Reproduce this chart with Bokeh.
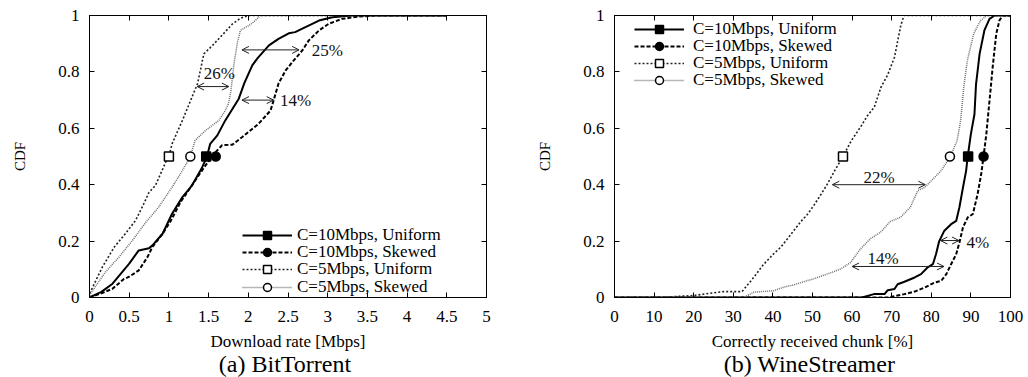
from bokeh.plotting import figure
from bokeh.layouts import row
from bokeh.models import (FixedTicker, LinearAxis, Range1d, Legend, LegendItem,
                          Arrow, OpenHead, Label, Title)
from bokeh.embed import file_html
from bokeh.resources import INLINE

# ---------------- data: (a) BitTorrent ----------------
bt_10u_x = [0, 0.15, 0.29, 0.5, 0.62, 0.75, 0.79, 0.92, 1.04, 1.17, 1.29, 1.42, 1.48, 1.52, 1.61, 1.71,
            1.88, 1.95, 2.05, 2.12, 2.26, 2.38, 2.51, 2.59, 2.72, 2.89, 3.06, 3.31, 4.5]
bt_10u_y = [0, 0.02, 0.049, 0.12, 0.167, 0.175, 0.184, 0.226, 0.297, 0.356, 0.397, 0.462, 0.5, 0.545,
            0.575, 0.628, 0.705, 0.76, 0.823, 0.85, 0.894, 0.917, 0.937, 0.941, 0.959, 0.982, 0.994, 1.0, 1.0]

bt_10s_x = [0, 0.15, 0.29, 0.43, 0.5, 0.62, 0.73, 0.79, 0.92, 1.02, 1.15, 1.32, 1.44, 1.57, 1.67, 1.8,
            1.92, 2.13, 2.28, 2.32, 2.38, 2.47, 2.57, 2.68, 2.76, 2.89, 3.01, 3.18, 3.39, 3.6, 4.5]
bt_10s_y = [0, 0.015, 0.031, 0.065, 0.074, 0.096, 0.143, 0.178, 0.226, 0.27, 0.34, 0.41, 0.46, 0.51, 0.54,
            0.542, 0.568, 0.616, 0.663, 0.70, 0.758, 0.805, 0.84, 0.876, 0.911, 0.947, 0.97, 0.988, 0.996, 1.0, 1.0]

bt_5u_x = [0, 0.01, 0.16, 0.31, 0.45, 0.58, 0.68, 0.75, 0.83, 0.96, 1.0, 1.04, 1.17, 1.29, 1.36, 1.40,
           1.44, 1.55, 1.67, 1.80, 1.9, 2.0, 4.5]
bt_5u_y = [0, 0.019, 0.107, 0.178, 0.226, 0.273, 0.33, 0.373, 0.397, 0.48, 0.5, 0.545, 0.628, 0.71, 0.758,
           0.81, 0.864, 0.894, 0.93, 0.97, 0.99, 1.0, 1.0]

bt_5s_x = [0, 0.01, 0.20, 0.37, 0.54, 0.71, 0.87, 1.04, 1.17, 1.27, 1.33, 1.46, 1.63, 1.71, 1.75, 1.78,
           1.82, 1.86, 1.90, 2.01, 2.09, 2.15, 4.5]
bt_5s_y = [0, 0.013, 0.09, 0.143, 0.202, 0.267, 0.32, 0.391, 0.45, 0.5, 0.557, 0.592, 0.628, 0.663, 0.687,
           0.73, 0.829, 0.90, 0.947, 0.965, 0.982, 1.0, 1.0]

bt_medians = [1.47, 1.59, 1.0, 1.27]

# ---------------- data: (b) WineStreamer ----------------
ws_10u_x = [0, 62.5, 65.5, 68.2, 69, 70.7, 71.5, 73.2, 75.8, 77.4, 79.1, 80.4, 81.2, 82, 83.3, 85, 86.3,
            87.1, 88, 88.8, 89.2, 90, 90.9, 91.3, 92.2, 93.4, 94.7, 96, 100]
ws_10u_y = [0, 0, 0.012, 0.012, 0.026, 0.03, 0.047, 0.056, 0.071, 0.083, 0.107, 0.118, 0.154, 0.2, 0.237,
            0.26, 0.272, 0.32, 0.39, 0.45, 0.5, 0.58, 0.65, 0.757, 0.864, 0.947, 0.988, 1.0, 1.0]

ws_10s_x = [0, 69, 73.2, 75.8, 78.3, 80.8, 82.5, 83.8, 85, 86.3, 87.1, 88, 89.2, 90.5, 91.7, 92.6, 93.2,
            93.9, 94.7, 95.5, 96.4, 97.2, 98, 100]
ws_10s_y = [0, 0, 0.012, 0.021, 0.035, 0.053, 0.059, 0.083, 0.118, 0.154, 0.195, 0.249, 0.284, 0.296,
            0.367, 0.438, 0.5, 0.58, 0.698, 0.817, 0.935, 0.982, 1.0, 1.0]

ws_5u_x = [0, 12.5, 20, 24.2, 27.6, 32.2, 33.5, 35.2, 37.5, 40.2, 42.1, 44.6, 47.1, 48.8, 50.5, 52.2,
           53.5, 55.6, 57.7, 59.8, 62.1, 63.9, 65.6, 67.3, 69, 70.7, 72.3, 73.1, 100]
ws_5u_y = [0, 0.001, 0.007, 0.015, 0.021, 0.021, 0.043, 0.072, 0.115, 0.155, 0.18, 0.225, 0.27, 0.296,
           0.33, 0.367, 0.396, 0.45, 0.5, 0.556, 0.604, 0.645, 0.675, 0.746, 0.79, 0.852, 0.965, 1.0, 1.0]

ws_5s_x = [0, 32.6, 35.2, 40.2, 42.8, 45.3, 48.7, 50.3, 53.7, 57.1, 59.6, 62.1, 64.6, 67.2, 69.7, 72.2,
           74.7, 76.6, 78.3, 80, 82.5, 84.8, 86.5, 87.4, 88.2, 89.1, 90.7, 92.4, 94.1, 100]
ws_5s_y = [0, 0, 0.019, 0.024, 0.037, 0.045, 0.06, 0.066, 0.083, 0.101, 0.124, 0.172, 0.208, 0.232, 0.27,
           0.284, 0.32, 0.379, 0.39, 0.414, 0.45, 0.5, 0.556, 0.627, 0.746, 0.84, 0.935, 0.982, 1.0, 1.0]

ws_medians = [89.3, 93.2, 57.7, 84.7]

series_names = ["C=10Mbps, Uniform", "C=10Mbps, Skewed", "C=5Mbps, Uniform", "C=5Mbps, Skewed"]

bt_xticks = [0, 0.5, 1, 1.5, 2, 2.5, 3, 3.5, 4, 4.5, 5]
bt_xtick_labels = ["0", "0.5", "1", "1.5", "2", "2.5", "3", "3.5", "4", "4.5", "5"]
ws_xticks = [0, 10, 20, 30, 40, 50, 60, 70, 80, 90, 100]
ws_xtick_labels = ["0", "10", "20", "30", "40", "50", "60", "70", "80", "90", "100"]
yticks = [0, 0.2, 0.4, 0.6, 0.8, 1]
ytick_labels = ["0", "0.2", "0.4", "0.6", "0.8", "1"]

# annotations: (x_start, x_end, y, text, text_x, text_y, align)
bt_notes = [(1.356, 1.755, 0.748, "26%", 1.44, 0.795, "left"),
            (1.92, 2.64, 0.878, "25%", 2.80, 0.875, "left"),
            (1.92, 2.32, 0.70, "14%", 2.40, 0.70, "left")]
ws_notes = [(55, 78.5, 0.40, "22%", 66.8, 0.425, "center"),
            (60, 83.2, 0.11, "14%", 67.8, 0.137, "center"),
            (82.3, 87, 0.202, "4%", 88.9, 0.196, "left")]

FONT = "Liberation Serif"
STYLES = [dict(color="black", line_width=2, line_dash="solid"),
          dict(color="black", line_width=2, line_dash="4 2"),
          dict(color="#222222", line_width=1.6, line_dash="2 2"),
          dict(color="#6e6e6e", line_width=1.5, line_dash="1 1")]
MARKERS = [dict(marker="square", fill_color="black"),
           dict(marker="circle", fill_color="black"),
           dict(marker="square", fill_color="white"),
           dict(marker="circle", fill_color="white")]

ROW_H = 20


def make_fig(width, bl, br, xmax, xticks, xlabels, xlabel, caption, series, medians, notes,
             leg_x, leg_rows_from_bottom, leg_standoff):
    p = figure(width=width, height=377, output_backend="svg", toolbar_location=None,
               x_range=Range1d(0, xmax), y_range=Range1d(0, 1),
               min_border_left=bl, min_border_right=br, min_border_top=15, min_border_bottom=80)
    p.grid.visible = False
    p.outline_line_color = "black"
    p.outline_line_width = 1
    p.background_fill_color = "white"
    p.border_fill_color = "white"

    xa = p.xaxis[0]
    xa.ticker = FixedTicker(ticks=xticks)
    xa.major_label_overrides = {t: l for t, l in zip(xticks, xlabels)}
    ya = p.yaxis[0]
    ya.ticker = FixedTicker(ticks=yticks)
    ya.major_label_overrides = {t: l for t, l in zip(yticks, ytick_labels)}
    for ax in (xa, ya):
        ax.major_tick_in = 5
        ax.major_tick_out = 0
        ax.minor_tick_line_color = None
        ax.major_label_text_font = FONT
        ax.major_label_text_font_size = "17px"
        ax.major_label_text_color = "black"
        ax.axis_label_text_font = FONT
        ax.axis_label_text_font_style = "normal"
        ax.axis_label_text_color = "black"
        ax.axis_line_color = "black"
    xa.axis_label = xlabel
    xa.axis_label_text_font_size = "17px"
    xa.major_label_standoff = 13
    xa.axis_label_standoff = 7
    ya.axis_label = "CDF"
    ya.axis_label_text_font_size = "15px"
    ya.major_label_standoff = 10
    ya.axis_label_standoff = 27

    # mirror ticks (no labels)
    top = LinearAxis(ticker=FixedTicker(ticks=xticks), major_label_overrides={t: "" for t in xticks},
                     major_tick_in=5, major_tick_out=0, minor_tick_line_color=None,
                     major_label_standoff=0)
    right = LinearAxis(ticker=FixedTicker(ticks=yticks), major_label_overrides={t: "" for t in yticks},
                       major_tick_in=5, major_tick_out=0, minor_tick_line_color=None,
                       major_label_standoff=0)
    p.add_layout(top, "above")
    p.add_layout(right, "right")

    p.add_layout(Title(text=caption, align="center", text_font=FONT, text_font_size="24px",
                       text_font_style="normal", text_color="black", standoff=-10), "below")

    for i, ((xs, ys), med) in enumerate(zip(series, medians)):
        st = STYLES[i]
        lr = p.line(xs, ys, line_color=st["color"], line_width=st["line_width"], line_dash=st["line_dash"])
        mr = p.scatter([med], [0.5], marker=MARKERS[i]["marker"], size=9,
                       fill_color=MARKERS[i]["fill_color"], line_color="black", line_width=1.5)
        leg = Legend(items=[LegendItem(label=series_names[i], renderers=[lr, mr])],
                     location=(leg_x, leg_rows_from_bottom[i]), glyph_width=50, glyph_height=ROW_H,
                     label_height=ROW_H, spacing=0, padding=0, margin=0, border_line_color=None,
                     background_fill_alpha=0, label_text_font=FONT, label_text_font_size="17px",
                     label_text_color="black", label_standoff=leg_standoff)
        p.add_layout(leg)

    for xs_, xe_, y_, txt, tx, ty, al in notes:
        p.add_layout(Arrow(x_start=xs_, y_start=y_, x_end=xe_, y_end=y_, line_color="#222222", line_width=1,
                           start=OpenHead(size=7, line_width=1, line_color="#222222"),
                           end=OpenHead(size=7, line_width=1, line_color="#222222")))
        p.add_layout(Label(x=tx, y=ty, text=txt, text_align=al, text_baseline="middle",
                           text_font=FONT, text_font_size="17px", text_color="#111111"))
    return p


p1 = make_fig(514, 89, 28, 5, bt_xticks, bt_xtick_labels, "Download rate [Mbps]", "(a)  BitTorrent",
              [(bt_10u_x, bt_10u_y), (bt_10s_x, bt_10s_y), (bt_5u_x, bt_5u_y), (bt_5s_x, bt_5s_y)],
              bt_medians, bt_notes, 153, [52, 35, 18, 0], 5)
p2 = make_fig(514, 100, 18, 100, ws_xticks, ws_xtick_labels, "Correctly received chunk [%]", "(b)  WineStreamer",
              [(ws_10u_x, ws_10u_y), (ws_10s_x, ws_10s_y), (ws_5u_x, ws_5u_y), (ws_5s_x, ws_5s_y)],
              ws_medians, ws_notes, 20, [258, 241, 224, 207], 9)

layout = row(p1, p2, spacing=0)
open("out.html", "w").write(file_html(layout, INLINE))
